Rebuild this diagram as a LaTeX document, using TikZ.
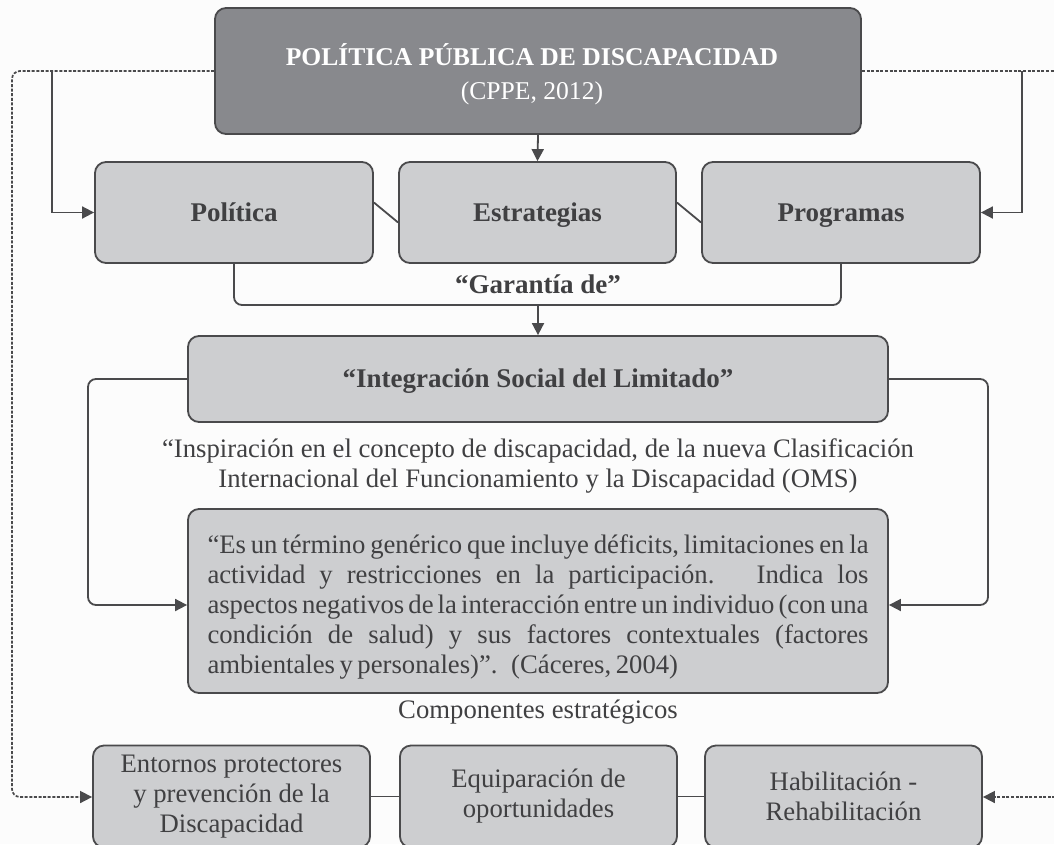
\documentclass[tikz,border=0pt]{standalone}
\usepackage{fontspec}
\setmainfont{Liberation Serif}
\usetikzlibrary{arrows.meta}
\definecolor{darkfill}{HTML}{88898D}
\definecolor{lightfill}{HTML}{CDCED0}
\definecolor{edgec}{HTML}{4A4A4C}
\definecolor{txtc}{HTML}{404042}
\definecolor{bgc}{HTML}{FCFCFC}
\begin{document}
\begin{tikzpicture}[x=1pt,y=-1pt,
  box/.style={draw=edgec, line width=1.8pt, fill=lightfill, rounded corners=11pt, inner sep=0pt, text=txtc, align=center},
  conn/.style={draw=edgec, line width=1.8pt},
  arr/.style={conn, -{Triangle[length=12pt,width=12pt]}},
  dotc/.style={draw=edgec, line width=1.7pt, dash pattern=on 3pt off 1.6pt, rounded corners=8pt, -{Triangle[length=12pt,width=12pt]}},
  dotnoarr/.style={draw=edgec, line width=1.7pt, dash pattern=on 3pt off 1.6pt},
  bigb/.style={font=\fontsize{27}{31}\selectfont\bfseries, text height=21pt, text depth=4pt},
  reg/.style={font=\fontsize{26.7}{30}\selectfont}
]
\fill[bgc] (0,0) rectangle (1054,844);
\useasboundingbox (0,0) rectangle (1054,844);

% boxes
\node[box, fill=darkfill, minimum width=646pt, minimum height=126pt] (top) at (538,71) {};
\node[text=white, align=center, font=\fontsize{25.6}{34}\selectfont] (title) at (532,74)
  {\textbf{POLÍTICA PÚBLICA DE DISCAPACIDAD}\\(CPPE, 2012)};
\node[box, bigb, minimum width=278pt, minimum height=101pt] (pol) at (234,212.5) {Política};
\node[box, bigb, minimum width=277pt, minimum height=101pt] (est) at (537.5,212.5) {Estrategias};
\node[box, bigb, minimum width=278pt, minimum height=101pt] (prog) at (841,212.5) {Programas};
\node[bigb, text=txtc] (gar) at (538,285) {“Garantía de”};
\node[box, bigb, minimum width=700pt, minimum height=86pt] (integ) at (538,379) {“Integración Social del Limitado”};
\node[reg, text=txtc, align=center] (insp) at (538,466)
  {“Inspiración en el concepto de discapacidad, de la nueva Clasificación\\Internacional del Funcionamiento y la Discapacidad (OMS)};
\node[box, minimum width=700pt, minimum height=184pt] (quote) at (538,601) {};
\node[text=txtc, inner sep=0pt] (quotetxt) at (538,607)
  {\parbox{661pt}{\fontsize{26.7}{30}\selectfont\spaceskip=0.17em plus 1.5em minus 0.03em\xspaceskip=0.17em plus 1.5em minus 0.03em “Es un término genérico que incluye déficits, limitaciones en la\linebreak actividad y restricciones en la participación.\ \ \ Indica los\linebreak aspectos negativos de la interacción entre un individuo (con una\linebreak condición de salud) y sus factores contextuales (factores\linebreak ambientales y personales)”.\ \ \ (Cáceres, 2004)}};
\node[reg, text=txtc] (comp) at (538,712) {Componentes estratégicos};
\node[box, reg, minimum width=277pt, minimum height=102pt] (ent) at (231.5,796.5)
  {Entornos protectores\\y prevención de la\\Discapacidad};
\node[box, reg, minimum width=277pt, minimum height=102pt] (equ) at (538.5,796.5)
  {Equiparación de\\oportunidades};
\node[box, reg, minimum width=277pt, minimum height=102pt] (hab) at (843.5,796.5)
  {Habilitación -\\Rehabilitación};

% coordinates
\coordinate (dl) at (12,797);
\coordinate (drt) at (1060,71);
\coordinate (drb) at (1060,797);
\coordinate (sl) at (52,71);
\coordinate (sr) at (1022,71);
\coordinate (gm) at (538,305);
\coordinate (il) at (88,500);
\coordinate (ir) at (988,500);

% dotted feedback lines
\draw[dotc] (top.west) -| (dl) -- (ent.west |- dl);
\draw[dotnoarr] (top.east) -- (drt);
\draw[dotc] (drb) -- (hab.east |- drb);

% solid connectors
\draw[arr] (sl) |- (pol.west);
\draw[arr] (sr) |- (prog.east);
\draw[arr] (top.south) -- (est.north);
\draw[conn] ([yshift=10pt]pol.east) -- ([yshift=-10pt]est.west);
\draw[conn] ([yshift=10pt]est.east) -- ([yshift=-10pt]prog.west);
\draw[conn, rounded corners=8pt] (pol.south) |- (gm) -| (prog.south);
\draw[arr] (gm) -- (integ.north);
\draw[arr, rounded corners=8pt] (integ.west) -| (il) |- ([yshift=-4pt]quote.west);
\draw[arr, rounded corners=8pt] (integ.east) -| (ir) |- ([yshift=-4pt]quote.east);
\draw[conn] (ent.east) -- (equ.west);
\draw[conn] (equ.east) -- (hab.west);
\end{tikzpicture}
\end{document}
